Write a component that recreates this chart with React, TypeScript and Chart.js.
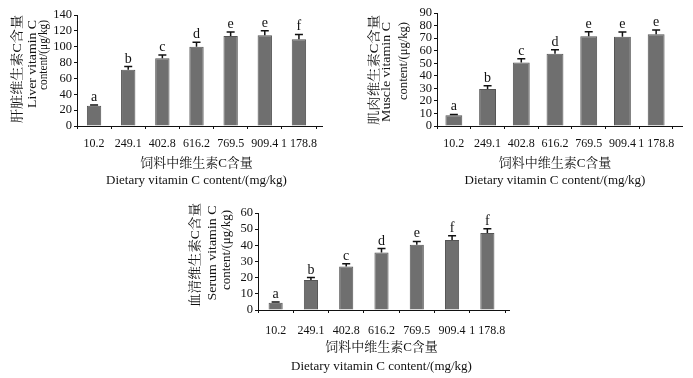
import React, { useEffect, useRef } from 'react';
import { Chart, registerables } from 'chart.js';

Chart.register(...registerables);

// ---------- data ----------
const doseLabels = ['10.2', '249.1', '402.8', '616.2', '769.5', '909.4', '1 178.8'];

const liverMeans = [25.5, 71, 85.5, 100, 113.5, 114.5, 109.5];
const liverErrors = [1, 4, 4, 5.5, 5, 5.5, 6];
const liverLetters = ['a', 'b', 'c', 'd', 'e', 'e', 'f'];

const muscleMeans = [8.5, 29.5, 50.5, 57.5, 71.5, 71, 73];
const muscleErrors = [0.7, 2.5, 3, 3.2, 3.5, 3.8, 3.5];
const muscleLetters = ['a', 'b', 'c', 'd', 'e', 'e', 'e'];

const serumMeans = [4.5, 18.6, 26.9, 35.6, 40.4, 43.3, 47.6];
const serumErrors = [0.5, 1.5, 1.7, 2.4, 2, 2.7, 2.7];
const serumLetters = ['a', 'b', 'c', 'd', 'e', 'f', 'f'];

const liverTicks = { max: 140, step: 20 };
const muscleTicks = { max: 90, step: 10 };
const serumTicks = { max: 60, step: 10 };

const liverYTitle = ['肝脏维生素C含量', 'Liver vitamin C', 'content/(μg/kg)'];
const muscleYTitle = ['肌肉维生素C含量', 'Muscle vitamin C', 'content/(μg/kg)'];
const serumYTitle = ['血清维生素C含量', 'Serum vitamin C', 'content/(μg/kg)'];
const xTitle = ['饲料中维生素C含量', 'Dietary vitamin C content/(mg/kg)'];

// ---------- style ----------
const SERIF = "'Liberation Serif', 'Times New Roman', 'Noto Serif CJK SC', 'Noto Sans CJK SC', serif";
const BAR_FILL = '#6f6f6f';
const BAR_EDGE = '#555555';
const INK = '#111111';

type YLine = { x: number; cy: number; len: number; size: number };

type PanelSpec = {
  left: number;
  top: number;
  width: number;
  height: number;
  means: number[];
  errors: number[];
  letters: string[];
  ticks: { max: number; step: number };
  yTitle: string[];
  yLines: YLine[];
  yW: number;
  xH: number;
  padTop: number;
  padRight: number;
  barPct: number;
  xTickPad: number;
  xTitleLH: number;
  xTitlePadBottom: number;
  axisExt: number;
};

const liverSpec: PanelSpec = {
  left: 0, top: 0, width: 330, height: 192,
  means: liverMeans, errors: liverErrors, letters: liverLetters,
  ticks: liverTicks, yTitle: liverYTitle,
  yLines: [
    { x: 18, cy: 69, len: 108, size: 13 },
    { x: 33, cy: 64, len: 88, size: 12.5 },
    { x: 44, cy: 55, len: 70, size: 12.5 },
  ],
  yW: 77, xH: 66, padTop: 15, padRight: 14, barPct: 0.42,
  xTickPad: 8, xTitleLH: 17, xTitlePadBottom: 2.5, axisExt: 7,
};

const muscleSpec: PanelSpec = {
  left: 350, top: 0, width: 343, height: 192,
  means: muscleMeans, errors: muscleErrors, letters: muscleLetters,
  ticks: muscleTicks, yTitle: muscleYTitle,
  yLines: [
    { x: 25, cy: 70, len: 110, size: 13 },
    { x: 37, cy: 72, len: 100, size: 12.5 },
    { x: 54, cy: 61, len: 78, size: 12.5 },
  ],
  yW: 87, xH: 66, padTop: 13, padRight: 20, barPct: 0.5,
  xTickPad: 8, xTitleLH: 17, xTitlePadBottom: 2.5, axisExt: 10,
};

const serumSpec: PanelSpec = {
  left: 180, top: 195, width: 340, height: 183,
  means: serumMeans, errors: serumErrors, letters: serumLetters,
  ticks: serumTicks, yTitle: serumYTitle,
  yLines: [
    { x: 16, cy: 60, len: 104, size: 13 },
    { x: 33, cy: 58, len: 95, size: 12.5 },
    { x: 47, cy: 55, len: 80, size: 12.5 },
  ],
  yW: 78, xH: 68, padTop: 18, padRight: 15, barPct: 0.4,
  xTickPad: 11, xTitleLH: 19, xTitlePadBottom: 1.5, axisExt: 5,
};

function makePlugins(spec: PanelSpec) {
  const errPlugin = {
    id: 'errLetters',
    afterDatasetsDraw(chart: any) {
      const { ctx } = chart;
      const meta = chart.getDatasetMeta(0);
      const ys = chart.scales.y;
      ctx.save();
      ctx.strokeStyle = INK;
      ctx.fillStyle = INK;
      ctx.lineWidth = 1.5;
      meta.data.forEach((bar: any, i: number) => {
        const v = spec.means[i];
        const e = spec.errors[i];
        const x = bar.x;
        const yBar = ys.getPixelForValue(v);
        const yCap = ys.getPixelForValue(v + e);
        ctx.beginPath();
        ctx.moveTo(x, yBar);
        ctx.lineTo(x, yCap);
        ctx.moveTo(x - 4, yCap);
        ctx.lineTo(x + 4, yCap);
        ctx.stroke();
        ctx.font = `14px ${SERIF}`;
        ctx.textAlign = 'center';
        ctx.textBaseline = 'alphabetic';
        ctx.fillText(spec.letters[i], x, yCap - 4);
      });
      ctx.restore();
    },
  };
  const yTitlePlugin = {
    id: 'yTitleLines',
    afterDraw(chart: any) {
      const { ctx } = chart;
      ctx.save();
      ctx.fillStyle = INK;
      spec.yTitle.forEach((t, i) => {
        const ln = spec.yLines[i];
        ctx.save();
        ctx.font = `${ln.size}px ${SERIF}`;
        const w = ctx.measureText(t).width;
        ctx.translate(ln.x, ln.cy);
        ctx.rotate(-Math.PI / 2);
        ctx.scale(ln.len / w, 1);
        ctx.textAlign = 'center';
        ctx.textBaseline = 'middle';
        ctx.fillText(t, 0, 0);
        ctx.restore();
      });
      ctx.restore();
    },
  };
  const axisExtPlugin = {
    id: 'axisExt',
    afterDraw(chart: any) {
      const { ctx, chartArea } = chart;
      const y = Math.round(chartArea.bottom) + 0.5;
      ctx.save();
      ctx.strokeStyle = INK;
      ctx.lineWidth = 1;
      ctx.beginPath();
      ctx.moveTo(chartArea.right, y);
      ctx.lineTo(chartArea.right + spec.axisExt, y);
      ctx.stroke();
      ctx.restore();
    },
  };
  return [errPlugin, yTitlePlugin, axisExtPlugin];
}

function makeConfig(spec: PanelSpec): any {
  return {
    type: 'bar',
    data: {
      labels: doseLabels,
      datasets: [
        {
          data: spec.means,
          backgroundColor: BAR_FILL,
          borderColor: BAR_EDGE,
          borderWidth: 1,
          barPercentage: spec.barPct,
          categoryPercentage: 1,
        },
      ],
    },
    options: {
      animation: false,
      responsive: false,
      maintainAspectRatio: false,
      devicePixelRatio: 1,
      layout: { padding: { top: spec.padTop, right: spec.padRight, left: 0, bottom: 0 } },
      plugins: {
        legend: { display: false },
        tooltip: { enabled: false },
        title: { display: false },
      },
      scales: {
        x: {
          offset: true,
          grid: {
            display: true,
            drawOnChartArea: false,
            drawTicks: true,
            tickLength: 3,
            offset: true,
            color: INK,
          },
          border: { display: true, color: INK, width: 1 },
          ticks: {
            color: INK,
            font: { family: SERIF, size: 12 },
            padding: spec.xTickPad,
            maxRotation: 0,
            minRotation: 0,
            autoSkip: false,
          },
          title: {
            display: true,
            text: xTitle,
            color: INK,
            font: { family: SERIF, size: 13, lineHeight: `${spec.xTitleLH}px` },
            padding: { top: 0, bottom: spec.xTitlePadBottom },
          },
          afterFit: (s: any) => {
            s.height = spec.xH;
          },
        },
        y: {
          min: 0,
          max: spec.ticks.max,
          grid: {
            display: true,
            drawOnChartArea: false,
            drawTicks: true,
            tickLength: 3,
            color: INK,
          },
          border: { display: true, color: INK, width: 1 },
          ticks: {
            stepSize: spec.ticks.step,
            color: INK,
            font: { family: SERIF, size: 12.5 },
            padding: 2,
            autoSkip: false,
          },
          title: { display: false },
          afterFit: (s: any) => {
            s.width = spec.yW;
          },
        },
      },
    },
    plugins: makePlugins(spec),
  };
}

function Panel({ spec }: { spec: PanelSpec }) {
  const ref = useRef<HTMLCanvasElement | null>(null);
  useEffect(() => {
    if (!ref.current) return;
    const chart = new Chart(ref.current, makeConfig(spec));
    return () => chart.destroy();
  }, [spec]);
  return (
    <div
      style={{
        position: 'absolute',
        left: spec.left,
        top: spec.top,
        width: spec.width,
        height: spec.height,
      }}
    >
      <canvas
        ref={ref}
        width={spec.width}
        height={spec.height}
        style={{ display: 'block', width: spec.width, height: spec.height }}
      />
    </div>
  );
}

export default function App() {
  return (
    <div
      style={{
        position: 'absolute',
        left: 0,
        top: 0,
        width: 693,
        height: 378,
        background: '#ffffff',
        overflow: 'hidden',
      }}
    >
      <Panel spec={liverSpec} />
      <Panel spec={muscleSpec} />
      <Panel spec={serumSpec} />
    </div>
  );
}
